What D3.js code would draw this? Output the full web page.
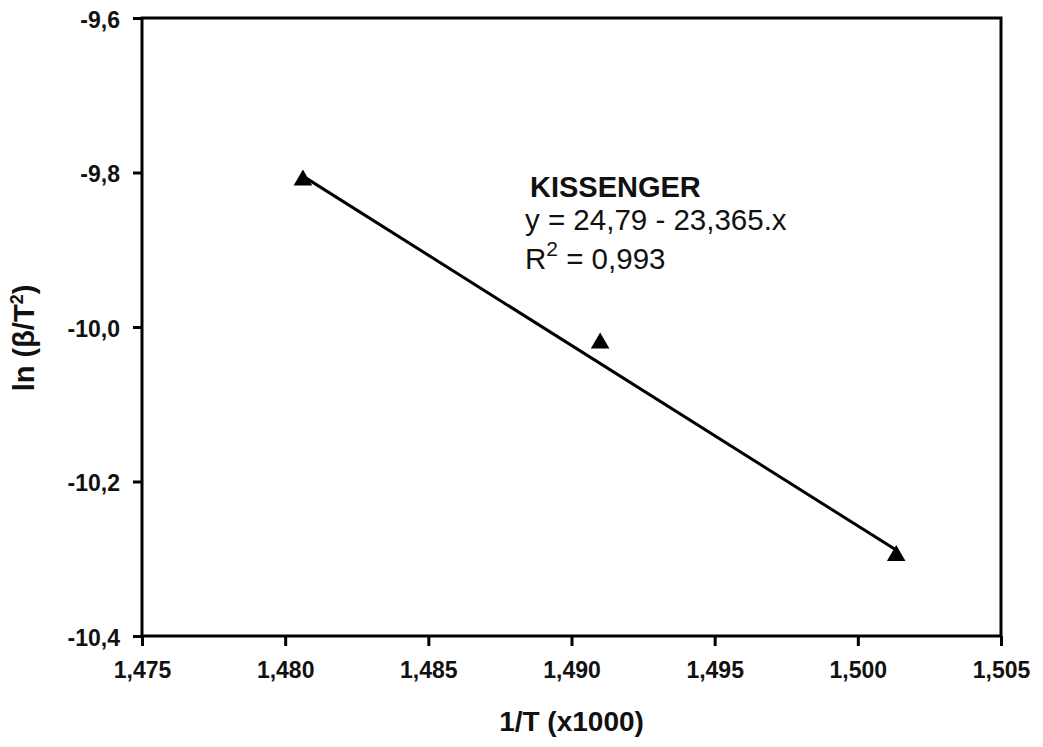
<!DOCTYPE html>
<meta charset="utf-8">
<style>
body { margin: 0; background: #fff; }
text { font-family: "Liberation Sans", Arial, sans-serif; fill: #111; }
.tick text { font-size: 23px; font-weight: bold; }
.axis path, .axis line { stroke: #000; stroke-width: 3px; }
</style>
<svg width="1043" height="747"></svg>
<script src="https://d3js.org/d3.v7.min.js"></script>
<script>

// points
var invT = [1.48062, 1.4910, 1.50134],
    lnBeta = [-9.810, -10.021, -10.296];

var xTicks = [1.475, 1.480, 1.485, 1.490, 1.495, 1.500, 1.505],
    yTicks = [-9.6, -9.8, -10.0, -10.2, -10.4];

// regression as printed on the chart
var intercept = 24.79,
    slope = -23.365;

var svg = d3.select("svg"),
    plotLeft = 142, plotRight = 1001, plotTop = 18, plotBottom = 636;

var locale = d3.formatLocale({decimal: ",", thousands: ".", grouping: [3], currency: ["", ""], minus: "-"});

var x = d3.scaleLinear().domain([1.475, 1.505]).range([plotLeft, plotRight]);
var y = d3.scaleLinear().domain([-9.6, -10.4]).range([plotTop, plotBottom]);

// frame
svg.append("rect")
    .attr("x", plotLeft).attr("y", plotTop)
    .attr("width", plotRight - plotLeft).attr("height", plotBottom - plotTop)
    .attr("fill", "none").attr("stroke", "#000").attr("stroke-width", 3);

var xAxis = svg.append("g")
    .attr("class", "axis")
    .attr("transform", "translate(0," + plotBottom + ")")
    .call(d3.axisBottom(x).tickValues(xTicks).tickFormat(locale.format(".3f")).tickSizeOuter(0).tickSize(10).tickPadding(16));
xAxis.select(".domain").remove();
xAxis.selectAll(".tick text").attr("dy", "0.71em");

var yAxis = svg.append("g")
    .attr("class", "axis")
    .attr("transform", "translate(" + plotLeft + ",0)")
    .call(d3.axisLeft(y).tickValues(yTicks).tickFormat(locale.format(".1f")).tickSizeOuter(0).tickSize(9).tickPadding(13));
yAxis.select(".domain").remove();
yAxis.selectAll(".tick text").attr("dy", "0.4em");

// fitted line
var x0 = d3.min(invT), x1 = d3.max(invT);
svg.append("line")
    .attr("x1", x(x0)).attr("y1", y(intercept + slope * x0))
    .attr("x2", x(x1)).attr("y2", y(intercept + slope * x1))
    .attr("stroke", "#000").attr("stroke-width", 3);

// points
svg.append("g")
  .selectAll("path")
  .data(invT)
  .enter().append("path")
    .attr("d", d3.symbol().type(d3.symbolTriangle).size(150))
    .attr("transform", function(d, i) { return "translate(" + x(d) + "," + y(lnBeta[i]) + ")"; })
    .attr("fill", "#000");

// annotation
svg.append("text")
    .attr("x", 530).attr("y", 197)
    .style("font-size", "29px").style("font-weight", "bold")
    .text("KISSENGER");
svg.append("text")
    .attr("x", 525).attr("y", 230)
    .style("font-size", "29.5px")
    .text("y = 24,79 - 23,365.x");
var r2 = svg.append("text")
    .attr("x", 525).attr("y", 269)
    .style("font-size", "29.5px");
r2.append("tspan").text("R");
r2.append("tspan").attr("dy", -13).style("font-size", "21px").text("2");
r2.append("tspan").attr("dy", 13).text(" = 0,993");

// axis titles
svg.append("text")
    .attr("x", (plotLeft + plotRight) / 2).attr("y", 731)
    .attr("text-anchor", "middle")
    .style("font-size", "28px").style("font-weight", "bold")
    .text("1/T (x1000)");

var yl = svg.append("text")
    .attr("transform", "translate(34,338) rotate(-90)")
    .attr("text-anchor", "middle")
    .style("font-size", "29px").style("font-weight", "bold");
yl.append("tspan").text("ln (β/T");
yl.append("tspan").attr("dy", -11).style("font-size", "18px").text("2");
yl.append("tspan").attr("dy", 11).text(")");

</script>
